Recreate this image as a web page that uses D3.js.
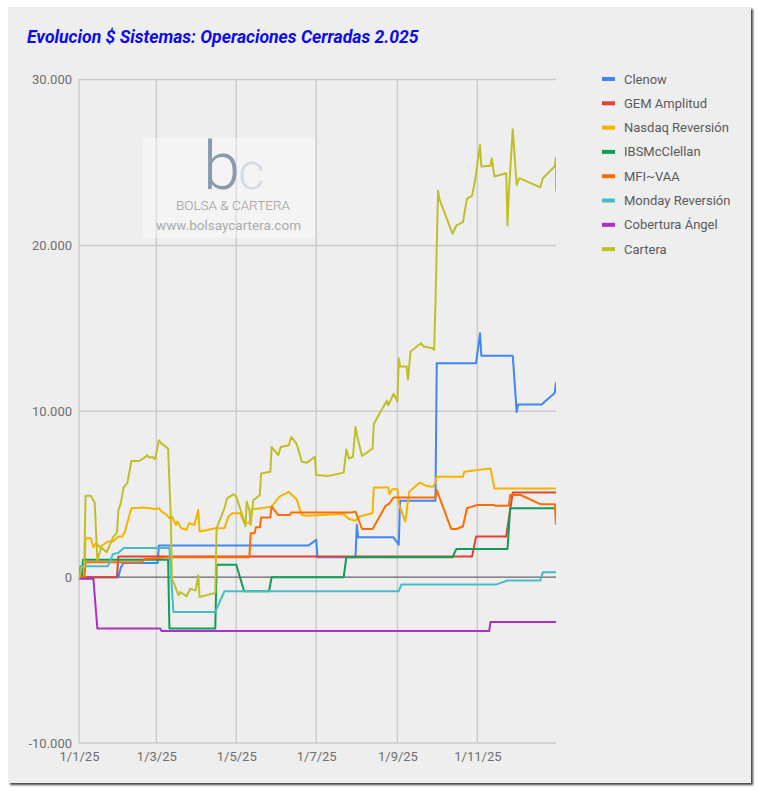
<!DOCTYPE html>
<html>
<head>
<meta charset="utf-8">
<script src="https://cdn.jsdelivr.net/npm/d3@7"></script>
<style>
body { margin: 0; background: #fff; }
text { font-family: Roboto, "Noto Sans", sans-serif; }
</style>
</head>
<body>
<div id="chart"></div>
<script>
// Data
var seriesNames = ["Clenow", "GEM Amplitud", "Nasdaq Reversión", "IBSMcClellan", "MFI~VAA", "Monday Reversión", "Cobertura Ángel", "Cartera"];
var seriesColors = ["#4285f4", "#db4437", "#f4b400", "#0f9d58", "#ff6d00", "#46bdc6", "#ab30c4", "#c0bf2a"];

var clenow = [["2025-01-01",0],["2025-01-31",0],["2025-02-02",600],["2025-02-04",850],["2025-03-02",850],["2025-03-03",1900],
  ["2025-06-25",1900],["2025-07-01",2250],["2025-07-02",1200],["2025-07-31",1200],["2025-08-01",3150],["2025-08-02",2400],
  ["2025-08-29",2400],["2025-09-02",1950],["2025-09-03",4600],["2025-09-30",4600],["2025-10-01",12900],["2025-10-31",12900],
  ["2025-11-03",14700],["2025-11-04",13350],["2025-11-28",13350],["2025-12-01",9950],["2025-12-02",10400],["2025-12-20",10400],
  ["2025-12-30",11100],["2025-12-31",11750]];

var gemAmplitud = [["2025-01-01",0],["2025-01-30",0],["2025-01-31",1250],["2025-10-28",1250],["2025-10-31",2450],
  ["2025-11-23",2450],["2025-11-28",5100],["2025-12-31",5100]];

var nasdaqReversion = [["2025-01-01",0],["2025-01-05",0],["2025-01-06",2350],["2025-01-10",2350],["2025-01-12",1800],["2025-01-14",2050],
  ["2025-01-17",1800],["2025-01-23",2150],["2025-01-27",2150],["2025-01-31",2450],["2025-02-03",2450],["2025-02-05",2750],
  ["2025-02-10",4150],["2025-02-19",4200],["2025-02-24",4150],["2025-02-28",4100],["2025-03-03",4150],["2025-03-05",3950],
  ["2025-03-09",3750],["2025-03-11",3550],["2025-03-13",3650],["2025-03-16",3150],["2025-03-17",3350],["2025-03-20",2950],
  ["2025-03-24",2850],["2025-03-26",3250],["2025-03-30",3150],["2025-04-02",4050],["2025-04-03",2750],["2025-04-15",2950],
  ["2025-04-22",2950],["2025-04-25",3650],["2025-04-28",3850],["2025-05-04",3850],["2025-05-07",3300],["2025-05-11",3250],
  ["2025-05-13",4100],["2025-05-20",4150],["2025-05-28",4250],["2025-06-03",4850],["2025-06-08",5050],["2025-06-10",5150],
  ["2025-06-16",4700],["2025-06-20",3750],["2025-06-24",3700],["2025-07-22",3800],["2025-07-26",3500],["2025-07-31",3400],
  ["2025-08-03",3650],["2025-08-13",3850],["2025-08-14",5400],["2025-08-25",5400],["2025-08-26",5000],["2025-08-28",5300],
  ["2025-09-01",5300],["2025-09-02",4450],["2025-09-07",3350],["2025-09-10",5150],["2025-09-18",5700],["2025-09-23",5500],
  ["2025-09-28",5450],["2025-09-30",5700],["2025-10-01",6050],["2025-10-21",6050],["2025-10-22",6350],["2025-10-31",6450],
  ["2025-11-11",6550],["2025-11-14",5350],["2025-12-31",5350]];

var ibsMcClellan = [["2025-01-01",0],["2025-01-03",0],["2025-01-04",1050],["2025-03-10",1050],["2025-03-11",-3100],
  ["2025-04-15",-3100],["2025-04-16",750],["2025-05-01",750],["2025-05-07",-850],["2025-05-26",-850],["2025-05-28",0],
  ["2025-07-22",0],["2025-07-24",1200],["2025-10-13",1200],["2025-10-16",1700],["2025-11-24",1700],["2025-11-26",4150],
  ["2025-12-31",4150]];

var mfiVaa = [["2025-01-01",0],["2025-01-05",0],["2025-01-06",900],["2025-02-18",900],["2025-02-20",1100],["2025-03-03",1150],
  ["2025-03-10",1200],["2025-05-11",1200],["2025-05-12",2650],["2025-05-15",2650],["2025-05-16",3000],["2025-05-19",3000],
  ["2025-05-20",3600],["2025-05-27",3600],["2025-05-28",4250],["2025-06-02",3750],["2025-06-11",3750],["2025-06-12",3900],
  ["2025-07-28",3900],["2025-07-31",3950],["2025-08-05",2900],["2025-08-13",2900],["2025-08-23",4300],["2025-08-26",4450],
  ["2025-08-29",4800],["2025-09-30",4800],["2025-10-01",5250],["2025-10-12",2900],["2025-10-16",2900],["2025-10-21",3050],
  ["2025-10-24",4150],["2025-10-28",4250],["2025-11-01",4350],["2025-11-13",4350],["2025-11-15",4300],["2025-11-25",4300],
  ["2025-11-26",4950],["2025-12-04",4950],["2025-12-19",4400],["2025-12-30",4400],["2025-12-31",3150]];

var mondayReversion = [["2025-01-01",0],["2025-01-02",650],["2025-01-23",650],["2025-01-27",1400],["2025-01-31",1450],
  ["2025-02-04",1750],["2025-03-11",1750],["2025-03-14",-2100],["2025-04-15",-2100],["2025-04-22",-850],["2025-09-02",-850],
  ["2025-09-04",-450],["2025-11-15",-450],["2025-11-24",-200],["2025-12-19",-200],["2025-12-21",300],["2025-12-31",300]];

var coberturaAngel = [["2025-01-01",-100],["2025-01-12",-100],["2025-01-15",-3100],["2025-03-04",-3100],["2025-03-05",-3250],
  ["2025-11-10",-3250],["2025-11-11",-2700],["2025-12-31",-2700]];

var cartera = [["2025-01-01",-100],["2025-01-03",600],["2025-01-05",600],["2025-01-06",4900],["2025-01-10",4900],["2025-01-13",4500],
  ["2025-01-15",1000],["2025-01-18",1800],["2025-01-22",1500],["2025-01-27",2400],["2025-01-30",2700],["2025-01-31",4000],
  ["2025-02-02",4500],["2025-02-04",5400],["2025-02-07",5700],["2025-02-10",7000],["2025-02-16",7000],["2025-02-20",7200],
  ["2025-02-22",7350],["2025-02-24",7200],["2025-02-26",7250],["2025-02-28",7100],["2025-03-03",8250],["2025-03-05",8050],
  ["2025-03-10",7750],["2025-03-12",3700],["2025-03-13",-100],["2025-03-15",-500],["2025-03-18",-1100],["2025-03-19",-900],
  ["2025-03-24",-1150],["2025-03-27",-700],["2025-03-31",-800],["2025-04-02",100],["2025-04-03",-1200],["2025-04-15",-950],
  ["2025-04-16",2950],["2025-04-22",4150],["2025-04-24",4750],["2025-04-29",5000],["2025-05-01",4850],["2025-05-06",3650],
  ["2025-05-08",3050],["2025-05-09",4550],["2025-05-11",4050],["2025-05-12",3150],["2025-05-14",4650],["2025-05-16",4750],
  ["2025-05-19",4950],["2025-05-20",6250],["2025-05-27",6350],["2025-05-28",7850],["2025-06-02",7350],["2025-06-04",7850],
  ["2025-06-10",7950],["2025-06-12",8450],["2025-06-16",8050],["2025-06-20",6950],["2025-06-24",6900],["2025-06-30",7250],
  ["2025-07-01",6150],["2025-07-10",6100],["2025-07-22",6300],["2025-07-24",7700],["2025-07-26",7150],["2025-07-29",7250],
  ["2025-07-31",9050],["2025-08-02",8250],["2025-08-05",7300],["2025-08-13",7750],["2025-08-14",9250],["2025-08-24",10650],
  ["2025-08-25",10350],["2025-08-29",11050],["2025-09-01",10600],["2025-09-02",13200],["2025-09-03",12700],["2025-09-08",12700],
  ["2025-09-09",11900],["2025-09-11",13600],["2025-09-19",14100],["2025-09-21",13900],["2025-09-28",13800],["2025-09-29",13700],
  ["2025-09-30",16500],["2025-10-02",23300],["2025-10-03",22800],["2025-10-13",20700],["2025-10-16",21200],["2025-10-21",21400],
  ["2025-10-24",22800],["2025-10-28",23000],["2025-10-30",23800],["2025-11-03",26050],["2025-11-04",24750],["2025-11-11",24800],
  ["2025-11-12",25250],["2025-11-14",24150],["2025-11-23",24350],["2025-11-24",21200],["2025-11-25",23200],["2025-11-28",27000],
  ["2025-12-01",23650],["2025-12-03",24050],["2025-12-19",23500],["2025-12-21",24050],["2025-12-30",24750],["2025-12-31",25300],
  ["2025-12-31",23250]];

var allSeries = [clenow, gemAmplitud, nasdaqReversion, ibsMcClellan, mfiVaa, mondayReversion, coberturaAngel, cartera];

var xTickDates = ["2025-01-01", "2025-03-01", "2025-05-01", "2025-07-01", "2025-09-01", "2025-11-01"];
var xTickLabels = ["1/1/25", "1/3/25", "1/5/25", "1/7/25", "1/9/25", "1/11/25"];
var yTicks = [-10000, 0, 10000, 20000, 30000];
var yTickLabels = ["-10.000", "0", "10.000", "20.000", "30.000"];
var xDomain = ["2025-01-01", "2025-12-31"];

// Set up SVG
var svgWidth = 759;
var svgHeight = 791;
var margin = { top: 79.5, right: 203, bottom: 48, left: 79 };
var width = svgWidth - margin.left - margin.right;
var height = svgHeight - margin.top - margin.bottom;

var parseDate = d3.timeParse("%Y-%m-%d");

var svg = d3.select("#chart").append("svg")
  .attr("width", svgWidth)
  .attr("height", svgHeight);

var defs = svg.append("defs");
var shadow = defs.append("filter").attr("id", "shadow")
  .attr("x", "-2%").attr("y", "-2%").attr("width", "105%").attr("height", "105%");
shadow.append("feDropShadow")
  .attr("dx", 2).attr("dy", 2).attr("stdDeviation", 1.2)
  .attr("flood-color", "#000").attr("flood-opacity", 0.75);

defs.append("clipPath").attr("id", "plotClip")
  .append("rect").attr("x", 0).attr("y", 0).attr("width", width).attr("height", height);

// panel
svg.append("rect")
  .attr("x", 8).attr("y", 7).attr("width", 743).attr("height", 776)
  .attr("fill", "#eeeeee")
  .attr("filter", "url(#shadow)");

// title
svg.append("text")
  .attr("x", 27).attr("y", 42.5)
  .attr("fill", "#0a0aee")
  .attr("font-size", "17.6px")
  .attr("font-weight", "bold")
  .attr("font-style", "italic")
  .text("Evolucion $ Sistemas: Operaciones Cerradas 2.025");

var chartGroup = svg.append("g").attr("transform", `translate(${margin.left}, ${margin.top})`);

var xScale = d3.scaleTime()
  .domain(xDomain.map(parseDate))
  .range([0, width]);

var yScale = d3.scaleLinear()
  .domain([-10000, 30000])
  .range([height, 0]);

// gridlines
chartGroup.append("g")
  .selectAll("line")
  .data(yTicks.filter(d => d !== 0))
  .enter()
  .append("line")
  .attr("x1", 0).attr("x2", width)
  .attr("y1", d => yScale(d)).attr("y2", d => yScale(d))
  .attr("stroke", "#cccccc")
  .attr("stroke-width", 1.5);

chartGroup.append("g")
  .selectAll("line")
  .data(xTickDates)
  .enter()
  .append("line")
  .attr("x1", d => xScale(parseDate(d))).attr("x2", d => xScale(parseDate(d)))
  .attr("y1", 0).attr("y2", height)
  .attr("stroke", "#cccccc")
  .attr("stroke-width", 1.5);

// axis labels
var yAxis = d3.axisLeft(yScale)
  .tickValues(yTicks)
  .tickSize(0)
  .tickPadding(7)
  .tickFormat((d, i) => yTickLabels[i]);

var yAxisGroup = chartGroup.append("g").call(yAxis);
yAxisGroup.select(".domain").remove();
yAxisGroup.selectAll("text")
  .attr("font-family", "Roboto, sans-serif")
  .attr("font-size", "13px")
  .attr("fill", "#6f6f6f");

var xAxis = d3.axisBottom(xScale)
  .tickValues(xTickDates.map(parseDate))
  .tickSize(0)
  .tickPadding(9)
  .tickFormat((d, i) => xTickLabels[i]);

var xAxisGroup = chartGroup.append("g")
  .attr("transform", `translate(0, ${height})`)
  .call(xAxis);
xAxisGroup.select(".domain").remove();
xAxisGroup.selectAll("text")
  .attr("font-family", "Roboto, sans-serif")
  .attr("font-size", "13px")
  .attr("fill", "#6f6f6f");

// watermark
var wm = svg.append("g");
wm.append("rect")
  .attr("x", 143).attr("y", 138).attr("width", 172).attr("height", 100)
  .attr("fill", "#ffffff").attr("opacity", 0.35);
var logo = wm.append("text")
  .attr("y", 189)
  .attr("font-family", "Roboto, sans-serif")
  .attr("font-weight", 300);
logo.append("tspan")
  .attr("x", 203)
  .attr("font-size", "67px")
  .attr("fill", "#8a9aad")
  .text("b");
logo.append("tspan")
  .attr("x", 238)
  .attr("font-size", "52px")
  .attr("fill", "#d3dce6")
  .text("c");
wm.append("text")
  .attr("x", 233).attr("y", 210)
  .attr("text-anchor", "middle")
  .attr("font-family", "Roboto, sans-serif")
  .attr("font-weight", 300)
  .attr("font-size", "13.5px")
  .attr("fill", "#9a9a9a")
  .text("BOLSA & CARTERA");
wm.append("text")
  .attr("x", 228.5).attr("y", 230)
  .attr("text-anchor", "middle")
  .attr("font-family", "'DejaVu Sans', sans-serif")
  .attr("font-size", "13.5px")
  .attr("fill", "#ababab")
  .text("www.bolsaycartera.com");

// zero baseline
chartGroup.append("line")
  .attr("x1", 0).attr("x2", width)
  .attr("y1", yScale(0)).attr("y2", yScale(0))
  .attr("stroke", "#666666")
  .attr("stroke-width", 1.2);

// series lines
var line = d3.line()
  .x(d => xScale(parseDate(d[0])))
  .y(d => yScale(d[1]));

var linesGroup = chartGroup.append("g").attr("clip-path", "url(#plotClip)");
linesGroup.selectAll("path")
  .data(allSeries)
  .enter()
  .append("path")
  .attr("d", d => line(d))
  .attr("fill", "none")
  .attr("stroke", (d, i) => seriesColors[i])
  .attr("stroke-width", 2)
  .attr("stroke-linejoin", "round");

// legend
var legendGroup = svg.append("g").attr("transform", "translate(602, 79)");
var legendItems = legendGroup.selectAll("g")
  .data(seriesNames)
  .enter()
  .append("g")
  .attr("transform", (d, i) => `translate(0, ${i * 24.3})`);

legendItems.append("rect")
  .attr("x", 0).attr("y", -2)
  .attr("width", 13).attr("height", 4)
  .attr("fill", (d, i) => seriesColors[i]);

legendItems.append("text")
  .attr("x", 22).attr("y", 0)
  .attr("dy", "0.35em")
  .attr("font-size", "13px")
  .attr("fill", "#5a5a5a")
  .text(d => d);
</script>
</body>
</html>
